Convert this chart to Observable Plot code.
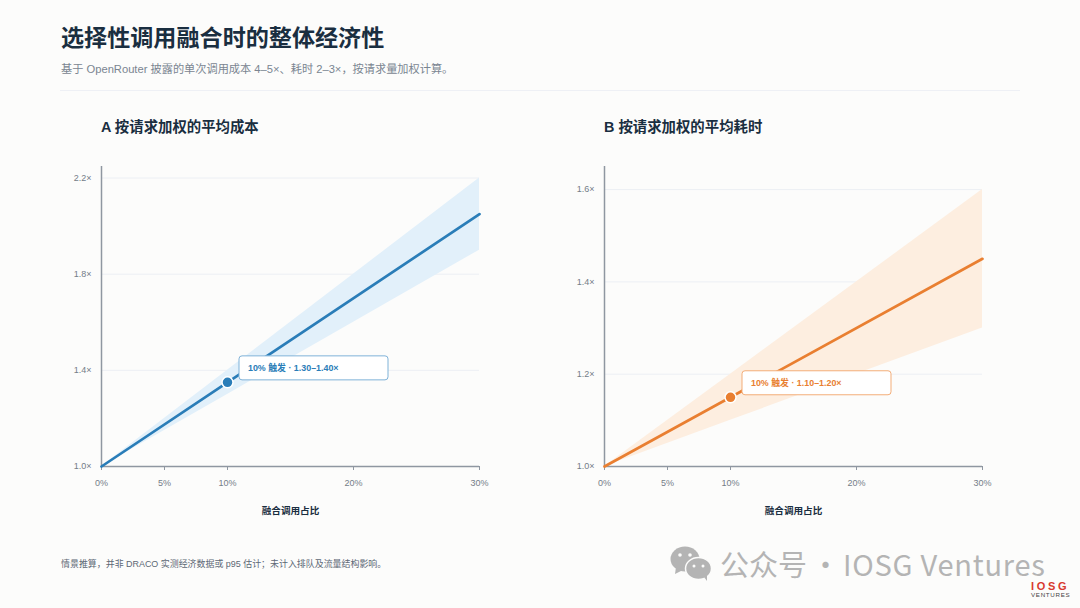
<!DOCTYPE html>
<html lang="zh">
<head>
<meta charset="utf-8">
<script src="https://cdn.jsdelivr.net/npm/d3@7"></script>
<script src="https://cdn.jsdelivr.net/npm/@observablehq/plot@0.6"></script>
<style>
html,body{margin:0;padding:0;background:#fcfcfb}
body{width:1080px;height:608px;position:relative;overflow:hidden;font-family:"Liberation Sans","Noto Sans CJK SC",sans-serif;color:#1a2e40}
.abs{position:absolute;white-space:nowrap}
h1{margin:0;left:61px;top:21px;font-size:23.1px;line-height:34px;font-weight:700;font-family:"Liberation Sans","Noto Sans CJK SC",sans-serif}
.sub{left:61px;top:61px;font-size:11.2px;line-height:16px;color:#7a8591}
.rule{left:60px;top:90px;width:960px;height:1px;background:#eef0f5}
.ptitle{top:117px;font-size:14.4px;line-height:20px;font-weight:700}
.foot{left:61px;top:557px;font-size:8.95px;line-height:14px;color:#5d6875}
.panel{position:absolute;top:150px}
.panel svg{display:block;background:transparent}
.wm{top:547px;font-family:"Noto Sans CJK SC","Noto Sans",sans-serif;font-size:29px;line-height:32px;color:#b4b4b4}
.logo{left:1031px;top:582px;font-size:11px;line-height:9px;font-weight:700;color:#d8392f;letter-spacing:2.7px}
.logo2{left:1031px;top:591px;font-size:6.2px;line-height:7px;color:#444;letter-spacing:.7px}
</style>
</head>
<body>
<h1 class="abs">选择性调用融合时的整体经济性</h1>
<div class="abs sub">基于 OpenRouter 披露的单次调用成本 4–5×、耗时 2–3×，按请求量加权计算。</div>
<div class="abs rule"></div>
<div class="abs ptitle" style="left:101px">A 按请求加权的平均成本</div>
<div class="abs ptitle" style="left:604px">B 按请求加权的平均耗时</div>
<div class="panel" id="a" style="left:60px"></div>
<div class="panel" id="b" style="left:563px"></div>
<div class="abs foot">情景推算，并非 DRACO 实测经济数据或 p95 估计；未计入排队及流量结构影响。</div>
<svg class="abs" style="left:670px;top:546px" width="42" height="36" viewBox="0 0 42 36">
  <ellipse cx="15" cy="13" rx="14.5" ry="12.5" fill="#b4b4b4"/><path d="M6 21 L5 28 L13 24Z" fill="#b4b4b4"/>
  <ellipse cx="28.5" cy="22.5" rx="13" ry="11" fill="#b4b4b4" stroke="#fcfcfb" stroke-width="1.5"/><path d="M34 31 L37 35 L37 28Z" fill="#b4b4b4"/>
  <circle cx="10" cy="9" r="1.8" fill="#fcfcfb"/><circle cx="20" cy="9" r="1.8" fill="#fcfcfb"/>
  <circle cx="24" cy="20" r="1.5" fill="#fcfcfb"/><circle cx="33" cy="20" r="1.5" fill="#fcfcfb"/>
</svg>
<div class="abs wm" style="left:720px">公众号</div>
<div class="abs wm" style="left:811px">·</div>
<div class="abs wm" style="left:843px;letter-spacing:.75px">IOSG Ventures</div>
<div class="abs logo">IOSG</div>
<div class="abs logo2">VENTURES</div>
<script>
const share = [0, 10, 30];
const xTicks = [0, 5, 10, 20, 30];
const xLabel = "融合调用占比";

const costLow = [1, 1.3, 1.9];
const costMid = [1, 1.35, 2.05];
const costHigh = [1, 1.4, 2.2];
const costTicks = [1, 1.4, 1.8, 2.2];
const costTop = 2.248;
const costCall = "10% 触发 · 1.30–1.40×";

const timeLow = [1, 1.1, 1.3];
const timeMid = [1, 1.15, 1.45];
const timeHigh = [1, 1.2, 1.6];
const timeTicks = [1, 1.2, 1.4, 1.6];
const timeTop = 1.65;
const timeCall = "10% 触发 · 1.10–1.20×";

function panel(id, low, mid, high, ticks, top, call, color, band, border) {
  const rows = share.map((s, i) => ({s, low: low[i], mid: mid[i], high: high[i]}));
  const pt = [rows[1]];
  const axisColor = "#8f97a1";
  const tickColor = "#747d88";
  const plot = Plot.plot({
    width: 460, height: 376,
    marginLeft: 41, marginRight: 41, marginTop: 16, marginBottom: 60,
    style: {background: "transparent", fontFamily: '"Liberation Sans","Noto Sans CJK SC",sans-serif', fontSize: "9px"},
    x: {domain: [0, 30]},
    y: {domain: [1, top]},
    marks: [
      Plot.gridY(ticks, {stroke: "#eceff4", strokeOpacity: 1, strokeWidth: 1}),
      Plot.areaY(rows, {x: "s", y1: "low", y2: "high", fill: band, fillOpacity: 1}),
      Plot.ruleX([0], {stroke: axisColor, strokeWidth: 1.5}),
      Plot.ruleY([1], {stroke: axisColor, strokeWidth: 1.5}),
      Plot.axisX({ticks: xTicks, tickFormat: d => d + "%", tickSize: 4, tickPadding: 9, stroke: axisColor, color: tickColor, fontSize: 9,
                  label: null}),
      Plot.axisY({ticks, tickFormat: d => d.toFixed(1) + "×", tickSize: 0, tickPadding: 10, color: tickColor, fontSize: 9, label: null}),
      Plot.text([xLabel], {frameAnchor: "bottom", dy: 47, fill: "#1a2e40", fontSize: 9.6, fontWeight: 700}),
      Plot.lineY(rows, {x: "s", y: "mid", stroke: color, strokeWidth: 2.7}),
      Plot.dot(pt, {x: "s", y: "mid", r: 5.5, fill: color, stroke: "#fff", strokeWidth: 1.5}),
      Plot.rect(pt, {x1: "s", x2: "s", y1: "mid", y2: "mid", insetLeft: 12, insetRight: -161, insetTop: -26, insetBottom: 2, rx: 3,
                     fill: "#fff", stroke: border, strokeWidth: 1}),
      Plot.text(pt, {x: "s", y: "mid", text: () => call, textAnchor: "start", dx: 20.5, dy: -14, fill: color, fontSize: 8.9, fontWeight: 700})
    ]
  });
  document.getElementById(id).append(plot);
}
panel("a", costLow, costMid, costHigh, costTicks, costTop, costCall, "#2a7db8", "#e2f0fa", "#7fb2d8");
panel("b", timeLow, timeMid, timeHigh, timeTicks, timeTop, timeCall, "#e97f31", "#fdeee0", "#f3ad78");
</script>
</body>
</html>
